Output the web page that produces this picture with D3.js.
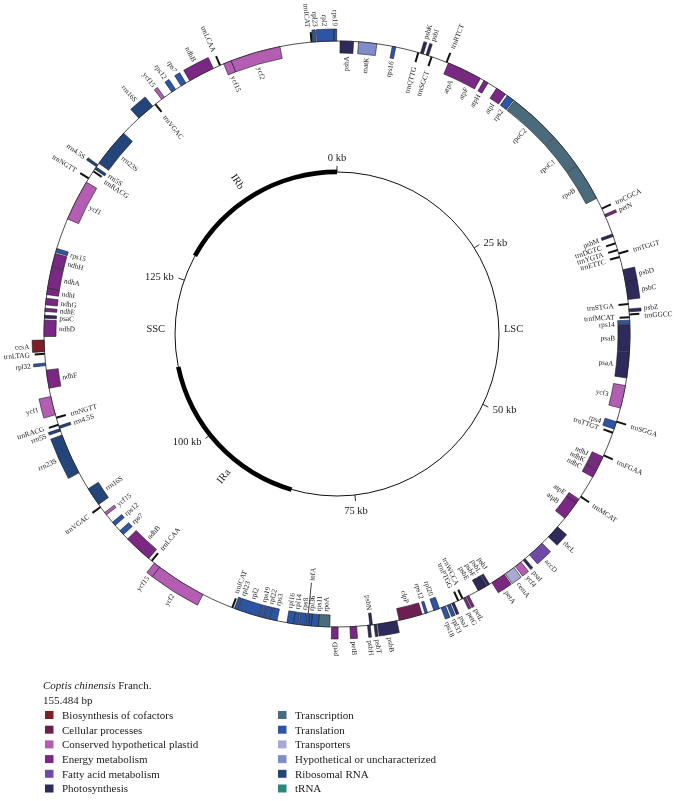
<!DOCTYPE html>
<html><head><meta charset="utf-8">
<script src="https://cdn.jsdelivr.net/npm/d3@7"></script>
<style>
body{margin:0;background:#fff}
svg{display:block;will-change:transform}
text{font-family:"Liberation Serif","Times New Roman",serif;fill:#1a1a1a}
</style>
</head><body>
<svg id="chart" width="678" height="801"></svg>
<script>
// ---------------- DATA ----------------
const genomeLength = 155484;
const speciesName = "Coptis chinensis";
const speciesAuthor = " Franch.";
const genomeSizeLabel = "155.484 bp";

const categoryKeys = ["cof","cell","cons","energy","fatty","photo","transc","transl","transp","hypo","rrna","trna"];
const categoryNames = ["Biosynthesis of cofactors","Cellular processes","Conserved hypothetical plastid","Energy metabolism","Fatty acid metabolism","Photosynthesis","Transcription","Translation","Transporters","Hypothetical or uncharacterized","Ribosomal RNA","tRNA"];
const categoryColors = ["#7e1e26","#6e1f52","#b35db3","#7b2884","#6f4aa8","#2e2a5c","#4a6b7b","#2d55a6","#a9a9d6","#7f8ecb","#24457a","#2a857d"];

const geneNames = [
 "psbA","matK","rps16","trnQTTG","psbK","psbI","trnSGCT","trnRTCT","atpA","atpF",
 "atpH","atpI","rps2","rpoC2","rpoC1","rpoB","trnCGCA","petN","psbM","trnDGTC",
 "trnYGTA","trnTGGT","trnETTC","psbD","psbC","trnSTGA","psbZ","trnGGCC","trnfMCAT","rps14",
 "psaB","psaA","ycf3","trnSGGA","rps4","trnTTGT","trnFGAA","ndhJ","ndhK","ndhC",
 "trnMCAT","atpE","atpB","rbcL","accD","psaI","ycf4","cemA","petA","psbJ",
 "psbL","psbF","psbE","petL","petG","trnWCCA","trnPTGG","psaJ","rpl33","rps18",
 "rpl20","rps12","clpP","psbB","psbT","psbN","psbH","petB","petD","rpoA",
 "rps11","rpl36","infA","rps8","rpl14","rpl16","rps3","rpl22","rps19","rpl2",
 "rpl23","trnICAT","ycf2","ycf15","trnLCAA","ndhB","rps7","rps12","ycf15","trnVGAC",
 "rrn16S","rrn23S","rrn5S","rrn4.5S","trnRACG","trnNGTT","ycf1","ndhF","rpl32","trnLTAG",
 "ccsA","ndhD","psaC","ndhE","ndhG","ndhI","ndhA","ndhH","rps15","ycf1",
 "trnNGTT","trnRACG","rrn5S","rrn4.5S","rrn23S","rrn16S","trnVGAC","ycf15","rps12","rps7",
 "ndhB","trnLCAA","ycf15","ycf2","trnICAT","rpl23","rpl2","rps19"
];
const geneStart = [
 260,1820,4700,6920,7150,7650,8100,9450,9650,11250,
 13000,14250,15350,16100,20700,23750,27900,28550,30300,31050,
 31640,31950,32250,33400,34450,36300,36750,37180,37420,37700,
 38100,40400,43250,46350,46400,47340,49400,49570,50200,50830,
 53400,53700,54100,56650,58550,60500,60950,61700,62700,64200,
 64500,64700,64900,66250,66550,66750,67150,67600,67900,68350,
 68900,70000,70450,72650,74400,74750,74950,76080,77650,78350,
 79330,79950,80150,80450,81030,81450,82850,83500,84000,84450,
 86300,86750,89500,93850,94650,95000,97950,99000,100150,100950,
 101250,104400,108300,108550,108780,109400,109700,112000,113950,114900,
 115120,116400,117950,118520,119080,119950,120500,122360,123600,126600,
 130430,131150,131450,131700,132000,137100,138900,139600,140650,141600,
 142450,145290,145650,146350,153300,153440,153800,155260
];
const geneEnd = [
 1400,3380,5000,6990,7400,7850,8180,9520,11200,12650,
 13400,15150,16000,20650,23700,26950,27970,28640,30420,31120,
 31720,32020,32320,34450,35950,36380,37000,37250,37490,38050,
 40350,42600,45200,46420,47050,47410,49470,50150,50800,51500,
 53470,54100,55700,57800,60000,60700,61550,62600,63950,64400,
 64650,64850,65300,66350,66650,66820,67220,67750,68200,68750,
 69400,70150,72450,74300,74600,74950,75150,76650,78200,79320,
 79930,80100,80400,80960,81430,82000,83450,83950,84400,86250,
 86600,86820,93850,94400,94720,97450,98400,99350,100400,101020,
 102850,107900,108420,108650,108850,109470,111300,113550,114150,114970,
 116100,117800,118200,118790,119640,120480,122330,123500,123950,130100,
 130500,131220,131570,131800,135300,138650,138970,139900,141050,142070,
 144700,145360,146350,150630,153370,153720,155230,155440
];
// 1 = drawn outside the circle, -1 = inside
const geneSide = [
 -1,-1,-1,-1,1,1,-1,1,-1,-1,
 -1,-1,-1,-1,-1,-1,1,1,-1,-1,
 -1,1,-1,1,1,-1,1,1,-1,-1,
 -1,-1,-1,1,-1,-1,1,-1,-1,-1,
 1,-1,-1,1,1,1,1,1,1,-1,
 -1,-1,-1,1,1,-1,-1,1,1,1,
 -1,-1,-1,1,1,-1,1,1,1,-1,
 -1,-1,-1,-1,-1,-1,-1,-1,-1,-1,
 -1,-1,1,1,-1,-1,-1,-1,-1,1,
 -1,1,1,-1,1,-1,1,-1,1,1,
 1,-1,-1,-1,-1,-1,-1,-1,-1,-1,
 1,-1,-1,1,-1,1,-1,1,1,1,
 1,1,-1,-1,1,1,1,1
];
const geneCategory = [
 "photo","hypo","transl","trna","photo","photo","trna","trna","energy","energy",
 "energy","energy","transl","transc","transc","transc","trna","energy","photo","trna",
 "trna","trna","trna","photo","photo","trna","photo","trna","trna","transl",
 "photo","photo","cons","trna","transl","trna","trna","energy","energy","energy",
 "trna","energy","energy","photo","fatty","photo","cons","transp","energy","photo",
 "photo","photo","photo","energy","energy","trna","trna","photo","transl","transl",
 "transl","transl","cell","photo","photo","photo","photo","energy","energy","transc",
 "transl","transl","transl","transl","transl","transl","transl","transl","transl","transl",
 "transl","trna","cons","cons","trna","energy","transl","transl","cons","trna",
 "rrna","rrna","rrna","rrna","trna","trna","cons","energy","transl","trna",
 "cof","energy","photo","energy","energy","energy","energy","energy","transl","cons",
 "trna","trna","rrna","rrna","rrna","rrna","trna","cons","transl","transl",
 "energy","trna","cons","cons","trna","transl","transl","transl"
];

const regionNames = ["LSC","IRa","SSC","IRb"];
const regionStart = [0,84780,111560,129050];
const regionEnd = [84780,111560,129050,155484];
const regionLabelPos = [38000,94460,117480,141250];

const tickValues = [0,25000,50000,75000,100000,125000];
const tickLabels = ["0 kb","25 kb","50 kb","75 kb","100 kb","125 kb"];

// ---------------- DRAWING ----------------
const W = 678, H = 801, cx = 337, cy = 334, R = 293, r = 162;
const BH = 12, TL = 10, LABEL_OFF = 15;
const svg = d3.select("#chart");
svg.append("rect").attr("width", W).attr("height", H).attr("fill", "#fff");
const g = svg.append("g").attr("transform", `translate(${cx},${cy})`);

const angle = d3.scaleLinear().domain([0, genomeLength]).range([0, 360]);
const color = d3.scaleOrdinal().domain(categoryKeys).range(categoryColors);
const toRad = a => a * Math.PI / 180;
const px = (rr, a) => rr * Math.sin(toRad(a));
const py = (rr, a) => -rr * Math.cos(toRad(a));

const genes = geneNames.map((n, i) => ({
  name: n, start: geneStart[i], end: geneEnd[i], side: geneSide[i], cat: geneCategory[i],
  a: angle((geneStart[i] + geneEnd[i]) / 2)
}));

// outer genome circle
g.append("circle").attr("r", R).attr("fill", "none").attr("stroke", "#222").attr("stroke-width", 0.8);

// gene boxes
const arc = d3.arc();
const boxes = genes.filter(d => d.cat !== "trna");
g.selectAll("path.gene").data(boxes).join("path").attr("class", "gene")
  .attr("d", d => {
    let a0 = toRad(angle(d.start)), a1 = toRad(angle(d.end));
    const minW = 2.6 / R;
    if (a1 - a0 < minW) { const m = (a0 + a1) / 2; a0 = m - minW / 2; a1 = m + minW / 2; }
    return arc({innerRadius: d.side > 0 ? R : R - BH, outerRadius: d.side > 0 ? R + BH : R, startAngle: a0, endAngle: a1});
  })
  .attr("fill", d => color(d.cat)).attr("stroke", "#1a1a1a").attr("stroke-width", 0.6);

// tRNA ticks
const trnas = genes.filter(d => d.cat === "trna");
g.selectAll("line.trna").data(trnas).join("line").attr("class", "trna")
  .attr("x1", d => px(R, d.a)).attr("y1", d => py(R, d.a))
  .attr("x2", d => px(R + d.side * TL, d.a)).attr("y2", d => py(R + d.side * TL, d.a))
  .attr("stroke", "#111").attr("stroke-width", 2);

// label de-overlap
function spread(items, gapDeg) {
  items.sort((p, q) => p.a - q.a);
  let clusters = items.map(d => ({items: [d], center: d.a}));
  let changed = true;
  while (changed) {
    changed = false;
    for (let i = 0; i < clusters.length - 1; i++) {
      const c1 = clusters[i], c2 = clusters[i + 1];
      const end1 = c1.center + (c1.items.length - 1) * gapDeg / 2;
      const start2 = c2.center - (c2.items.length - 1) * gapDeg / 2;
      if (start2 - end1 < gapDeg) {
        const its = c1.items.concat(c2.items);
        clusters.splice(i, 2, {items: its, center: d3.mean(its, d => d.a)});
        changed = true; break;
      }
    }
  }
  clusters.forEach(c => c.items.forEach((d, k) => d.la = c.center + (k - (c.items.length - 1) / 2) * gapDeg));
}
const special = new Set(["infA"]);
const outerL = genes.filter(d => d.side > 0 && !special.has(d.name));
const innerL = genes.filter(d => d.side < 0 && !special.has(d.name));
spread(outerL, 7.6 / (R + LABEL_OFF) * 180 / Math.PI);
spread(innerL, 7.2 / (R - LABEL_OFF) * 180 / Math.PI);
genes.forEach(d => { d.lr = R + d.side * LABEL_OFF; if (special.has(d.name)) { d.la = d.a; d.lr = R - LABEL_OFF - 30; } });

// leader line for special labels
genes.filter(d => special.has(d.name)).forEach(d => {
  g.append("line").attr("x1", px(R - BH, d.a)).attr("y1", py(R - BH, d.a))
    .attr("x2", px(d.lr + 2, d.a)).attr("y2", py(d.lr + 2, d.a)).attr("stroke", "#111").attr("stroke-width", 0.8);
});

g.selectAll("text.glabel").data(genes).join("text").attr("class", "glabel")
  .attr("font-size", 7.2)
  .attr("transform", d => {
    const la = ((d.la % 360) + 360) % 360;
    const rot = la < 180 ? la - 90 : la + 90;
    return `translate(${px(d.lr, la)},${py(d.lr, la)}) rotate(${rot})`;
  })
  .attr("text-anchor", d => {
    const la = ((d.la % 360) + 360) % 360;
    const right = la < 180;
    return (d.side > 0) === right ? "start" : "end";
  })
  .attr("dy", "0.35em")
  .text(d => d.name);

// inner circle & regions
g.append("circle").attr("r", r).attr("fill", "none").attr("stroke", "#111").attr("stroke-width", 1);
regionNames.forEach((nm, i) => {
  if (nm.startsWith("IR")) {
    g.append("path").attr("d", arc({innerRadius: r - 2.2, outerRadius: r + 2.4,
      startAngle: toRad(angle(regionStart[i])), endAngle: toRad(angle(regionEnd[i]))})).attr("fill", "#000");
  }
  const la = angle(regionLabelPos[i]);
  if (nm.startsWith("IR")) {
    const rr = r + 20;
    g.append("text").attr("font-size", 10.5).attr("text-anchor", "middle").attr("dy", "0.35em")
      .attr("transform", `translate(${px(rr, la)},${py(rr, la)}) rotate(${la + 90})`).text(nm);
  } else {
    const rr = la < 180 ? r + 5 : r + 10;
    g.append("text").attr("font-size", 10.5).attr("text-anchor", la < 180 ? "start" : "end").attr("dy", "0.35em")
      .attr("x", px(rr, la)).attr("y", py(rr, la)).text(nm);
  }
});

// ticks
tickValues.forEach((v, i) => {
  const a = angle(v);
  g.append("line").attr("x1", px(r, a)).attr("y1", py(r, a)).attr("x2", px(r + 6, a)).attr("y2", py(r + 6, a))
    .attr("stroke", "#111").attr("stroke-width", 0.9);
  const s = Math.sin(toRad(a)), c = Math.cos(toRad(a));
  const anchor = s > 0.3 ? "start" : (s < -0.3 ? "end" : "middle");
  const dy = c > 0.7 ? "-0.1em" : (c < -0.7 ? "0.85em" : "0.35em");
  const rr = anchor === "middle" ? r + 10 : r + 11;
  g.append("text").attr("font-size", 10.5).attr("text-anchor", anchor).attr("dy", dy)
    .attr("x", px(rr, a)).attr("y", py(rr, a)).text(tickLabels[i]);
});

// legend
const lg = svg.append("g").attr("transform", "translate(43,0)");
const title = lg.append("text").attr("x", 0).attr("y", 689).attr("font-size", 11);
title.append("tspan").attr("font-style", "italic").text(speciesName);
title.append("tspan").text(speciesAuthor);
lg.append("text").attr("x", 0).attr("y", 704).attr("font-size", 11).text(genomeSizeLabel);
categoryNames.forEach((nm, i) => {
  const col = Math.floor(i / 6), row = i % 6;
  const x = col === 0 ? 2 : 235, y = 715 + row * 14.7;
  lg.append("rect").attr("x", x).attr("y", y - 4).attr("width", 8.5).attr("height", 8)
    .attr("fill", categoryColors[i]);
  lg.append("text").attr("x", x + 17).attr("y", y + 3.8).attr("font-size", 11).text(nm);
});
</script>
</body></html>
